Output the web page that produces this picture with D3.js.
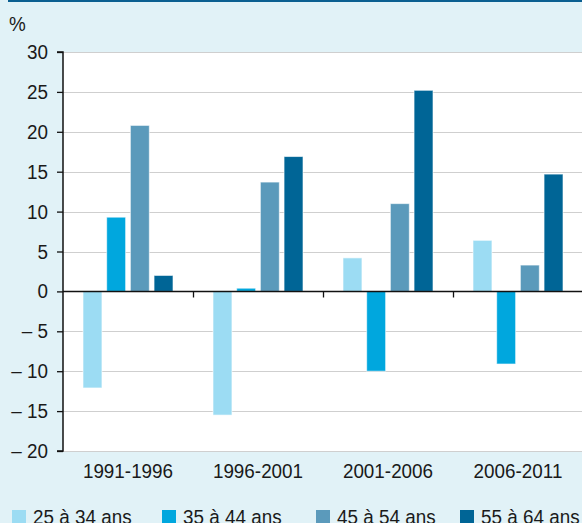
<!DOCTYPE html>
<html>
<head>
<meta charset="utf-8">
<script src="https://cdn.jsdelivr.net/npm/d3@7"></script>
<style>
  body { margin: 0; background: #e1f2f7; }
  svg { display: block; }
  text { font-family: "Liberation Sans", Arial, sans-serif; fill: #1a1a1a; }
</style>
</head>
<body>
<svg id="chart" width="582" height="523"></svg>
<script>
// periods on the x axis
var periods = ["1991-1996", "1996-2001", "2001-2006", "2006-2011"];
// age groups (legend)
var groups = ["25 à 34 ans", "35 à 44 ans", "45 à 54 ans", "55 à 64 ans"];
// values per age group, one per period (%)
var v25_34 = [-12.1, -15.5, 4.2, 6.4];
var v35_44 = [9.3, 0.4, -10.0, -9.1];
var v45_54 = [20.8, 13.7, 11.0, 3.3];
var v55_64 = [2.0, 16.9, 25.2, 14.7];
var yTicks = [30, 25, 20, 15, 10, 5, 0, -5, -10, -15, -20];
var colors = ["#9cdcf3", "#00a7de", "#5b9abb", "#006596"];

var series = [v25_34, v35_44, v45_54, v55_64];
var fontSize = 20.5;

var svg = d3.select("#chart");
var plotLeft = 63, plotRight = 583, plotTop = 52, plotBottom = 451;

// white plot area
svg.append("rect")
    .attr("x", plotLeft).attr("y", plotTop)
    .attr("width", plotRight - plotLeft).attr("height", plotBottom - plotTop)
    .attr("fill", "#fff");

// dark line on top
svg.append("rect")
    .attr("x", 8).attr("y", 0)
    .attr("width", 582).attr("height", 2)
    .attr("fill", "#0a5f91");

var y = d3.scaleLinear().domain([-20, 30]).range([plotBottom, plotTop]);
var x0 = d3.scaleBand().domain(periods).range([plotLeft, plotRight]);
var x1 = d3.scaleBand().domain(d3.range(groups.length))
    .range([20, x0.bandwidth() - 20]).paddingInner(0.2);

// grid
svg.append("g").selectAll("line")
    .data(yTicks.filter(function (d) { return d !== 0; }))
    .join("line")
    .attr("x1", plotLeft).attr("x2", plotRight)
    .attr("y1", function (d) { return Math.round(y(d)) + 0.5; })
    .attr("y2", function (d) { return Math.round(y(d)) + 0.5; })
    .attr("stroke", "#cfcfcf").attr("stroke-width", 1.2);

// bars
var rows = [];
periods.forEach(function (p, i) {
    series.forEach(function (s, k) {
        rows.push({ period: p, k: k, value: s[i] });
    });
});
svg.append("g").selectAll("rect")
    .data(rows)
    .join("rect")
    .attr("x", function (d) { return x0(d.period) + x1(d.k); })
    .attr("width", x1.bandwidth())
    .attr("y", function (d) { return y(Math.max(0, d.value)); })
    .attr("height", function (d) { return Math.abs(y(d.value) - y(0)); })
    .attr("fill", function (d) { return colors[d.k]; })
    .attr("stroke", "#ffffff").attr("stroke-opacity", 0.6).attr("stroke-width", 1);

// y axis
var yAxis = d3.axisLeft(y).tickValues(yTicks).tickSize(6).tickPadding(9)
    .tickFormat(function (d) { return d < 0 ? "\u2013 " + Math.abs(d) : d; });
var ya = svg.append("g").attr("transform", "translate(" + plotLeft + ",0)").call(yAxis);
ya.select(".domain").attr("stroke", "#111").attr("stroke-width", 1.5)
    .attr("d", "M-6," + plotTop + "H0V" + plotBottom + "H-6");
ya.selectAll(".tick line").attr("stroke", "#111").attr("stroke-width", 1.3);
ya.selectAll(".tick text").attr("font-size", fontSize).attr("fill", "#1a1a1a")
    .attr("font-family", null);

// zero line with ticks between periods
var zeroY = Math.round(y(0)) + 0.5;
svg.append("line")
    .attr("x1", plotLeft).attr("x2", 582)
    .attr("y1", zeroY).attr("y2", zeroY)
    .attr("stroke", "#111").attr("stroke-width", 1.6);
svg.append("g").selectAll("line")
    .data(periods.slice(1))
    .join("line")
    .attr("x1", function (d) { return Math.round(x0(d)) + 0.5; })
    .attr("x2", function (d) { return Math.round(x0(d)) + 0.5; })
    .attr("y1", zeroY).attr("y2", zeroY + 6)
    .attr("stroke", "#111").attr("stroke-width", 1.3);

// period labels
svg.append("g").selectAll("text")
    .data(periods)
    .join("text")
    .attr("x", function (d) { return x0(d) + x0.bandwidth() / 2; })
    .attr("y", 478)
    .attr("text-anchor", "middle")
    .attr("font-size", fontSize)
    .text(function (d) { return d; });

// % unit
svg.append("text").attr("x", 9).attr("y", 31).attr("font-size", fontSize).text("%");

// legend
var legendX = [12, 162, 316, 460];
var lg = svg.append("g").selectAll("g")
    .data(groups)
    .join("g")
    .attr("transform", function (d, i) { return "translate(" + legendX[i] + ",510)"; });
lg.append("rect").attr("width", 14).attr("height", 14)
    .attr("fill", function (d, i) { return colors[i]; });
lg.append("text").attr("x", 21).attr("y", 14).attr("font-size", fontSize)
    .text(function (d) { return d; });

// condensed look: squeeze every text horizontally
svg.selectAll("text").each(function () {
    var w = this.getComputedTextLength();
    d3.select(this).attr("textLength", w * 0.92).attr("lengthAdjust", "spacingAndGlyphs");
});
</script>
</body>
</html>
